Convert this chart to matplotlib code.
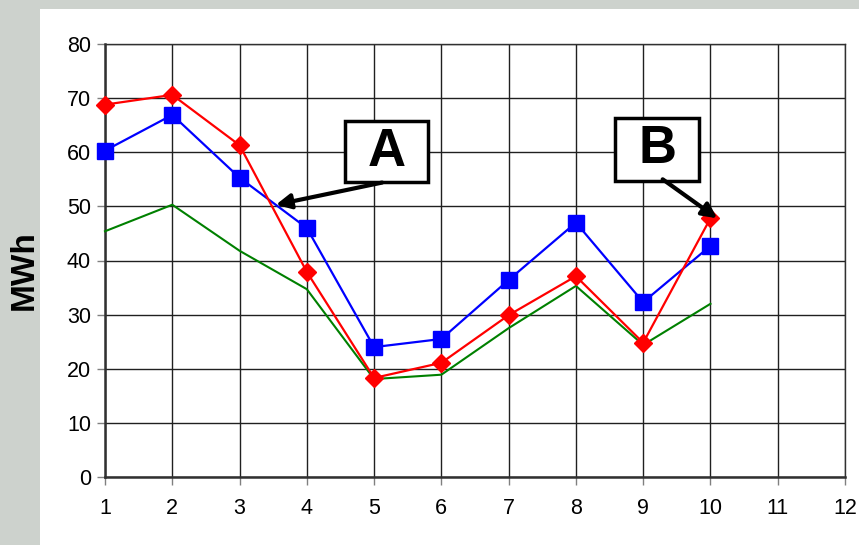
import matplotlib.pyplot as plt
from matplotlib.patches import Rectangle
import numpy as np

plt.rcParams['font.family'] = ['Liberation Sans', 'DejaVu Sans']

# data
months = [1, 2, 3, 4, 5, 6, 7, 8, 9, 10]
red_vals = [68.8, 70.6, 61.3, 37.9, 18.3, 21.1, 29.9, 37.1, 24.8, 47.8]
blue_vals = [60.3, 66.9, 55.3, 46.0, 24.0, 25.5, 36.4, 47.0, 32.3, 42.7]
green_vals = [45.4, 50.3, 41.8, 34.7, 18.1, 18.9, 27.5, 35.3, 24.4, 32.0]
x_ticks = list(range(1, 13))
y_ticks = list(range(0, 81, 10))

fig = plt.figure(figsize=(8.59, 5.45), dpi=100)
fig.patch.set_facecolor('#cdd2cd')
# white slide panel
fig.patches.append(Rectangle((40 / 859, 0), 1, 1 - 9 / 545, transform=fig.transFigure,
                             facecolor='white', edgecolor='none', zorder=-10))

ax = fig.add_axes([105 / 859, 68 / 545, 740 / 859, 433 / 545])
ax.set_facecolor('white')

ax.plot(months, green_vals, color='#008000', lw=1.5, zorder=3, clip_on=False)
ax.plot(months, blue_vals, color='#0000ff', lw=1.6, marker='s', ms=11.5, zorder=4, clip_on=False)
ax.plot(months, red_vals, color='#ff0000', lw=1.6, marker='D', ms=9.5, zorder=5, clip_on=False)

ax.set_xlim(1, 12)
ax.set_ylim(0, 80)
ax.set_xticks(x_ticks)
ax.set_yticks(y_ticks)
ax.grid(True, color='#202020', lw=1.0)
ax.set_axisbelow(True)
for s in ax.spines.values():
    s.set_color('#303030')
    s.set_linewidth(1.0)
ax.spines['left'].set_linewidth(1.8)
ax.spines['bottom'].set_linewidth(1.8)
ax.tick_params(axis='both', direction='out', length=6, width=1, color='#808080',
               labelsize=15.5, labelcolor='black')
ax.tick_params(axis='x', pad=9)
ax.tick_params(axis='y', pad=4)

fig.text(24 / 859, 1 - 270 / 545, 'MWh', rotation=90, fontsize=24, fontweight='bold',
         ha='center', va='center')

# callout boxes
for (x0, x1, y0, y1, lab) in [(4.568, 5.801, 54.5, 65.77, 'A'), (8.581, 9.83, 54.69, 66.33, 'B')]:
    ax.add_patch(Rectangle((x0, y0), x1 - x0, y1 - y0, facecolor='white', edgecolor='black',
                           lw=2.5, zorder=6, clip_on=False))
    ax.text((x0 + x1) / 2, (y0 + y1) / 2, lab, fontsize=38, fontweight='bold',
            ha='center', va='center', zorder=7)

ax.annotate('', xy=(3.54, 50.3), xytext=(5.12, 54.4),
            arrowprops=dict(arrowstyle='-|>', lw=3, color='black', mutation_scale=22,
                            shrinkA=0, shrinkB=0), zorder=8)
ax.annotate('', xy=(10.1, 47.8), xytext=(9.29, 55.0),
            arrowprops=dict(arrowstyle='-|>', lw=3, color='black', mutation_scale=22,
                            shrinkA=0, shrinkB=0), zorder=8)

fig.savefig('out.png', dpi=100, facecolor=fig.get_facecolor())
